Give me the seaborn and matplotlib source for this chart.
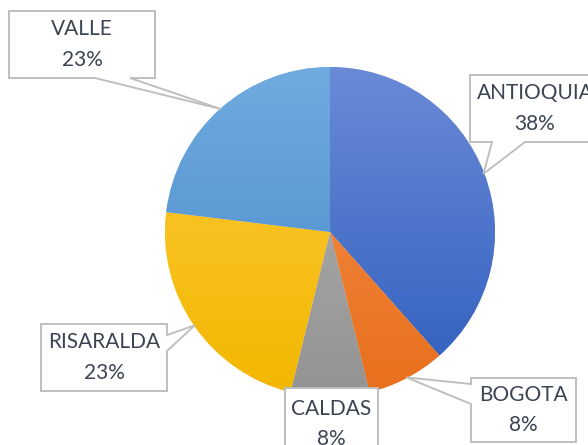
import numpy as np
import matplotlib.pyplot as plt
from matplotlib.patches import Polygon
from matplotlib.colors import LinearSegmentedColormap
import seaborn as sns

# data
regions = ["ANTIOQUIA", "BOGOTA", "CALDAS", "RISARALDA", "VALLE"]
counts = [5, 1, 1, 3, 3]
# light (top) / dark (bottom) shade of each slice
light_cols = ["#6A8AD6", "#F4924F", "#B4B4B4", "#FFCB3E", "#70ABE0"]
dark_cols = ["#2F5EBF", "#E86F1C", "#939393", "#F2B700", "#4688C9"]

sns.set_theme(style="white")
plt.rcParams["font.family"] = ["Lato", "DejaVu Sans"]

W, H = 588, 445
CX, CY, R = 330, 232, 165  # pie centre / radius in pixels (top origin)

fig = plt.figure(figsize=(W / 100, H / 100), dpi=100)
ax = fig.add_axes([(CX - R) / W, (H - CY - R) / H, 2 * R / W, 2 * R / H])

def to_data(px, py):
    return ((px - CX) / R, (CY - py) / R)

wedges, _ = ax.pie(counts, startangle=90, counterclock=False, radius=1,
                   colors=sns.color_palette(dark_cols),
                   wedgeprops=dict(linewidth=0.4, edgecolor="white"))

grad = np.linspace(0, 1, 256).reshape(-1, 1)
for w, lc, dc in zip(wedges, light_cols, dark_cols):
    cmap = LinearSegmentedColormap.from_list("g", [lc, dc])
    im = ax.imshow(grad, extent=[-1, 1, -1, 1], cmap=cmap, aspect="auto",
                   origin="upper", zorder=w.get_zorder() + 0.1)
    im.set_clip_path(w)

total = sum(counts)
pct_labels = [f"{round(c / total * 100)}%" for c in counts]

# callout boxes (pixels): x0, y0, x1, y1, notch side, notch positions
boxes = {
    "ANTIOQUIA": (470, 75, 600, 142, "bottom", (525, 492)),
    "BOGOTA": (471, 378, 576, 442, "left", (404, 384)),
    "CALDAS": (285, 388, 378, 460, None, None),
    "RISARALDA": (41, 324, 167, 391, "right", (335, 351)),
    "VALLE": (9, 11, 155, 78, "bottom", (130, 95)),
}

for w, name, pct in zip(wedges, regions, pct_labels):
    x0, y0, x1, y1, side, notch = boxes[name]
    mid = np.deg2rad((w.theta1 + w.theta2) / 2)
    tip = (np.cos(mid) * 0.995, np.sin(mid) * 0.995)
    tl, tr, br, bl = (x0, y0), (x1, y0), (x1, y1), (x0, y1)
    if side == "bottom":
        pts = [to_data(*tl), to_data(*tr), to_data(*br), to_data(notch[0], y1),
               tip, to_data(notch[1], y1), to_data(*bl)]
    elif side == "left":
        pts = [to_data(*tl), to_data(*tr), to_data(*br), to_data(*bl),
               to_data(x0, notch[0]), tip, to_data(x0, notch[1])]
    elif side == "right":
        pts = [to_data(*tl), to_data(*tr), to_data(x1, notch[0]), tip,
               to_data(x1, notch[1]), to_data(*br), to_data(*bl)]
    else:
        pts = [to_data(*tl), to_data(*tr), to_data(*br), to_data(*bl)]
    ax.add_patch(Polygon(pts, closed=True, facecolor="white", edgecolor="#BFBFBF",
                         linewidth=1.4, zorder=10, clip_on=False))
    tx, ty = to_data((x0 + x1) / 2, (y0 + y1) / 2)
    ax.text(tx, ty, f"{name}\n{pct}", ha="center", va="center", fontsize=15,
            color="#3B4453", linespacing=1.65, zorder=11, clip_on=False)

ax.set_xlim(-1, 1)
ax.set_ylim(-1, 1)
ax.set_aspect("equal")
ax.axis("off")

fig.savefig("out.png", dpi=100)
